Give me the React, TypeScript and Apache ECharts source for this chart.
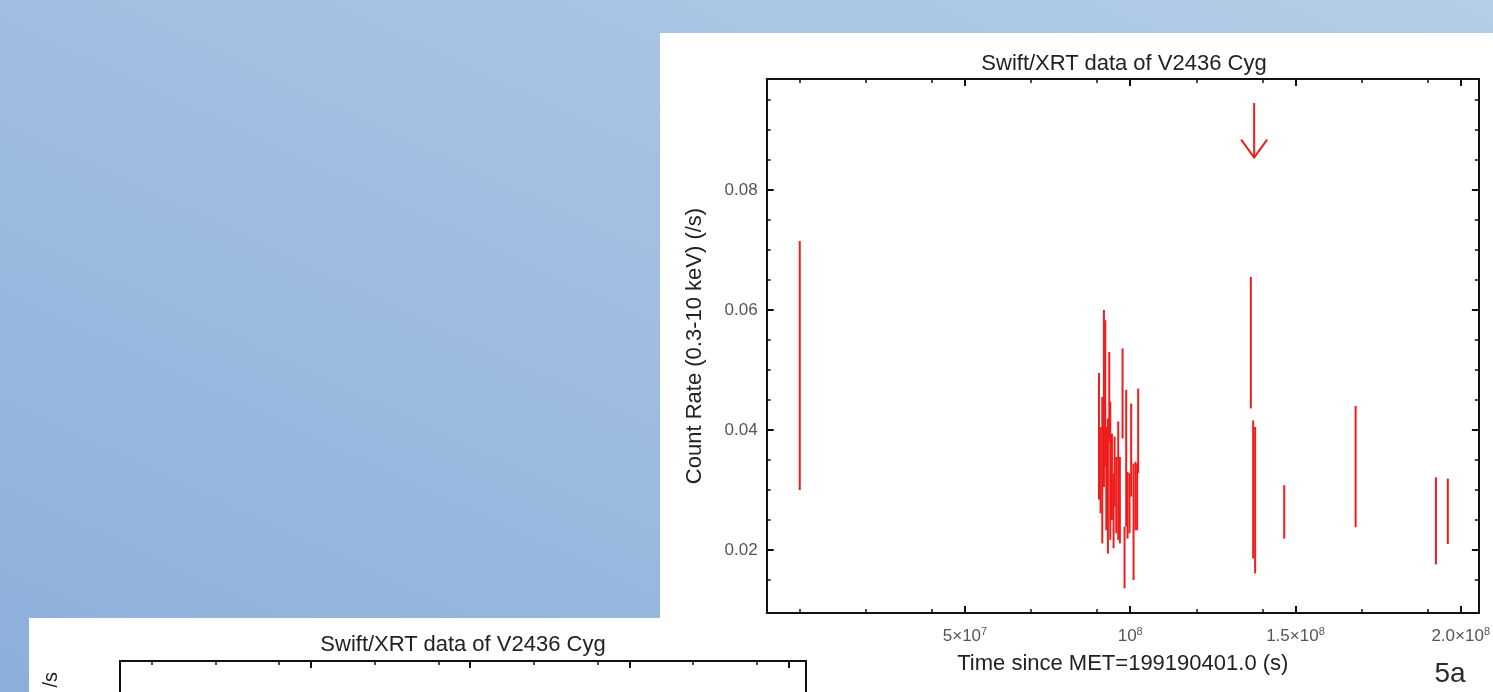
import React, { useEffect, useRef } from "react";
import * as echarts from "echarts";

const TITLE = "Swift/XRT data of V2436 Cyg";
const X_NAME = "Time since MET=199190401.0 (s)";
const Y_NAME = "Count Rate (0.3-10 keV) (/s)";
const CORNER_LABEL = "5a";
const LOWER_Y_NAME_END = "/s";

const X_MIN = -1e7;
const X_MAX = 2.055e8;
const Y_MIN = 0.0094;
const Y_MAX = 0.0984;

const xMajorTicks = [5e7, 1e8, 1.5e8, 2e8];
const xMajorBase = ["5×10", "10", "1.5×10", "2.0×10"];
const xMajorExp = ["7", "8", "8", "8"];
const xMinorTicks = [0, 2e7, 4e7, 7e7, 9e7, 1.2e8, 1.4e8, 1.7e8, 1.9e8];
const yMajorTicks = [0.02, 0.04, 0.06, 0.08];
const yMajorLabels = ["0.02", "0.04", "0.06", "0.08"];
const yMinorTicks = [0.015, 0.025, 0.03, 0.035, 0.045, 0.05, 0.055, 0.065, 0.07, 0.075, 0.085, 0.09, 0.095];

// error bars: time, low, high
const times = [
  0,
  9.054e7, 9.104e7, 9.154e7, 9.204e7, 9.245e7, 9.275e7, 9.325e7, 9.366e7, 9.396e7, 9.446e7,
  9.496e7, 9.526e7, 9.577e7, 9.637e7, 9.687e7, 9.768e7, 9.828e7, 9.878e7, 9.919e7, 9.979e7,
  1.0029e8, 1.01e8, 1.016e8, 1.021e8, 1.0241e8,
  1.365e8, 1.372e8, 1.378e8, 1.466e8, 1.682e8, 1.925e8, 1.961e8,
];
const lows = [
  0.0299,
  0.0283, 0.026, 0.021, 0.0304, 0.0338, 0.0232, 0.0193, 0.038, 0.0216, 0.0249,
  0.0202, 0.0271, 0.0227, 0.0216, 0.021, 0.0385, 0.0135, 0.0238, 0.0218, 0.0227,
  0.0288, 0.0149, 0.0232, 0.0232, 0.0327,
  0.0435, 0.0185, 0.016, 0.0218, 0.0237, 0.0175, 0.0209,
];
const highs = [
  0.0714,
  0.0494, 0.0404, 0.0454, 0.0599, 0.0582, 0.0404, 0.0418, 0.0529, 0.0446, 0.0393,
  0.0327, 0.0388, 0.0354, 0.0413, 0.0354, 0.0535, 0.0238, 0.0466, 0.0329, 0.0327,
  0.0443, 0.0343, 0.0346, 0.0343, 0.0468,
  0.0654, 0.0415, 0.0404, 0.0307, 0.0439, 0.032, 0.0318,
];

const arrowTime = 1.375e8;
const arrowTop = 0.0944;
const arrowTip = 0.0853;

const FONT = "'Liberation Sans', Arial, sans-serif";
const RED = "#ee1c1c";
const INK = "#111";

function tickAxis(extra: any) {
  return {
    type: "value",
    min: X_MIN,
    max: X_MAX,
    splitLine: { show: false },
    axisLabel: { show: false },
    ...extra,
  };
}

export default function App() {
  const ref = useRef<HTMLDivElement>(null);
  useEffect(() => {
    if (!ref.current) return;
    const chart = echarts.init(ref.current, undefined, { renderer: "svg" });

    const lineOn = { show: true, onZero: false, lineStyle: { color: INK, width: 2 } };
    const lineOff = { show: false, onZero: false };
    const majorTick = (vals: number[], len = 7) => ({
      show: true,
      inside: true,
      length: len,
      customValues: vals,
      lineStyle: { color: INK, width: 2 },
    });
    const minorTick = (vals: number[]) => ({
      show: true,
      inside: true,
      length: 4,
      customValues: vals,
      lineStyle: { color: INK, width: 1.5 },
    });

    const xAxes: any[] = [
      tickAxis({
        gridIndex: 0,
        position: "bottom",
        axisLine: lineOn,
        axisTick: majorTick(xMajorTicks),
        axisLabel: {
          show: true,
          customValues: xMajorTicks,
          margin: 12,
          formatter: (v: number) => {
            const i = xMajorTicks.indexOf(v);
            if (i < 0) return "";
            return `{b|${xMajorBase[i]}}{s|${xMajorExp[i]}}`;
          },
          rich: {
            b: { fontSize: 17, color: "#555", fontFamily: FONT, lineHeight: 20 },
            s: { fontSize: 11, color: "#555", fontFamily: FONT, verticalAlign: "top", lineHeight: 11 },
          },
        },
        name: X_NAME,
        nameLocation: "middle",
        nameGap: 38,
        nameTextStyle: { fontSize: 22, color: "#222", fontFamily: FONT },
      }),
      tickAxis({ gridIndex: 0, position: "bottom", axisLine: lineOff, axisTick: minorTick(xMinorTicks) }),
      tickAxis({ gridIndex: 0, position: "top", axisLine: lineOn, axisTick: majorTick(xMajorTicks) }),
      tickAxis({ gridIndex: 0, position: "top", axisLine: lineOff, axisTick: minorTick(xMinorTicks) }),
      tickAxis({ gridIndex: 1, position: "top", axisLine: lineOn, axisTick: majorTick(xMajorTicks) }),
      tickAxis({ gridIndex: 1, position: "top", axisLine: lineOff, axisTick: minorTick(xMinorTicks) }),
    ];

    const yBase = (extra: any) => ({
      type: "value",
      min: Y_MIN,
      max: Y_MAX,
      splitLine: { show: false },
      axisLabel: { show: false },
      ...extra,
    });

    const yAxes: any[] = [
      yBase({
        gridIndex: 0,
        position: "left",
        axisLine: lineOn,
        axisTick: majorTick(yMajorTicks),
        axisLabel: {
          show: true,
          customValues: yMajorTicks,
          margin: 9,
          color: "#555",
          fontSize: 17,
          fontFamily: FONT,
          formatter: (v: number) => {
            const i = yMajorTicks.findIndex((t) => Math.abs(t - v) < 1e-9);
            return i < 0 ? "" : yMajorLabels[i];
          },
        },
        name: Y_NAME,
        nameLocation: "middle",
        nameGap: 62,
        nameTextStyle: { fontSize: 22, color: "#222", fontFamily: FONT },
      }),
      yBase({ gridIndex: 0, position: "left", axisLine: lineOff, axisTick: minorTick(yMinorTicks) }),
      yBase({ gridIndex: 0, position: "right", axisLine: lineOn, axisTick: majorTick(yMajorTicks) }),
      yBase({ gridIndex: 0, position: "right", axisLine: lineOff, axisTick: minorTick(yMinorTicks) }),
      yBase({ gridIndex: 1, position: "left", axisLine: lineOn, axisTick: { show: false } }),
      yBase({ gridIndex: 1, position: "right", axisLine: lineOn, axisTick: { show: false } }),
    ];

    const barData = times.map((t, i) => [t, lows[i], highs[i]]);

    chart.setOption({
      animation: false,
      grid: [
        { left: 766.7, right: 12, top: 79, bottom: 79, containLabel: false },
        { left: 120, right: 687, top: 661, height: 400, containLabel: false },
      ],
      xAxis: xAxes,
      yAxis: yAxes,
      graphic: [
        {
          type: "rect",
          z: -20,
          shape: { x: 0, y: 0, width: 1493, height: 692 },
          style: {
            fill: new echarts.graphic.LinearGradient(1, 0, 0, 1, [
              { offset: 0, color: "#b4cde8" },
              { offset: 1, color: "#8cafda" },
            ]),
          },
        },
        { type: "rect", z: -10, shape: { x: 660, y: 33, width: 833, height: 659 }, style: { fill: "#ffffff" } },
        { type: "rect", z: -10, shape: { x: 29, y: 618, width: 800, height: 74 }, style: { fill: "#ffffff" } },
        {
          type: "text",
          z: 10,
          x: 1124,
          y: 62,
          style: { text: TITLE, align: "center", verticalAlign: "middle", fontSize: 22, fontFamily: FONT, fill: "#222" },
        },
        {
          type: "text",
          z: 10,
          x: 463,
          y: 643,
          style: { text: TITLE, align: "center", verticalAlign: "middle", fontSize: 22, fontFamily: FONT, fill: "#222" },
        },
        {
          type: "text",
          z: 10,
          x: 50,
          y: 672,
          rotation: Math.PI / 2,
          style: { text: LOWER_Y_NAME_END, align: "right", verticalAlign: "middle", fontSize: 20, fontFamily: FONT, fill: "#222" },
        },
        {
          type: "text",
          z: 10,
          x: 1450,
          y: 672,
          style: { text: CORNER_LABEL, align: "center", verticalAlign: "middle", fontSize: 28, lineHeight: 30, fontFamily: FONT, fill: "#2a2a2a" },
        },
      ],
      series: [
        {
          type: "custom",
          xAxisIndex: 0,
          yAxisIndex: 0,
          data: barData,
          encode: { x: 0, y: [1, 2] },
          renderItem: (_p: any, api: any) => {
            const t = api.value(0);
            const a = api.coord([t, api.value(1)]);
            const b = api.coord([t, api.value(2)]);
            return {
              type: "line",
              shape: { x1: a[0], y1: a[1], x2: b[0], y2: b[1] },
              style: { stroke: RED, lineWidth: 2 },
            };
          },
        },
        {
          type: "custom",
          xAxisIndex: 0,
          yAxisIndex: 0,
          data: [[arrowTime, arrowTop, arrowTip]],
          encode: { x: 0, y: [1, 2] },
          renderItem: (_p: any, api: any) => {
            const t = api.value(0);
            const top = api.coord([t, api.value(1)]);
            const tip = api.coord([t, api.value(2)]);
            return {
              type: "group",
              children: [
                {
                  type: "line",
                  shape: { x1: top[0], y1: top[1], x2: tip[0], y2: tip[1] },
                  style: { stroke: RED, lineWidth: 2 },
                },
                {
                  type: "polyline",
                  shape: {
                    points: [
                      [tip[0] - 13, tip[1] - 18],
                      [tip[0], tip[1]],
                      [tip[0] + 13, tip[1] - 18],
                    ],
                  },
                  style: { stroke: RED, lineWidth: 2, fill: "none" },
                },
              ],
            };
          },
        },
      ],
    });

    return () => chart.dispose();
  }, []);

  return <div ref={ref} style={{ position: "fixed", left: 0, top: 0, width: 1493, height: 692 }} />;
}
